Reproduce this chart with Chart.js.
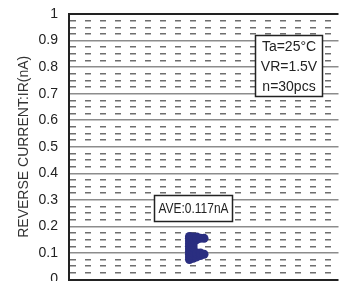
<!DOCTYPE html>
<html><head><meta charset="utf-8">
<script src="https://cdn.jsdelivr.net/npm/chart.js@4/dist/chart.umd.min.js"></script>
<style>
html,body{margin:0;padding:0;background:#fff;overflow:hidden;width:343px;height:281px}
#wrap{width:343px;height:284px;position:relative}
</style>
</head><body><div id="wrap"><canvas id="c"></canvas></div>
<script>
// ---- data ----
const yTickValues = [0, 0.1, 0.2, 0.3, 0.4, 0.5, 0.6, 0.7, 0.8, 0.9, 1];
const yTickLabels = ['0', '0.1', '0.2', '0.3', '0.4', '0.5', '0.6', '0.7', '0.8', '0.9', '1'];
// dot-plot columns (equal readings are stacked side by side)
const column0 = [0.075, 0.085, 0.095, 0.105, 0.115, 0.125, 0.135, 0.145, 0.155, 0.162];
const column1 = [0.08, 0.09, 0.10, 0.11, 0.12, 0.13, 0.14, 0.15, 0.16];
const column2 = [0.085, 0.095, 0.10, 0.15, 0.155, 0.16];
const column3 = [0.09, 0.10, 0.155];
const column4 = [0.095, 0.155];
const axisTitle = 'REVERSE CURRENT:IR(nA)';
const aveLabel = 'AVE:0.117nA';
const conditionLines = ['Ta=25\u00B0C', 'VR=1.5V', 'n=30pcs'];

// ---- layout constants ----
const columnBaseX = 44.7, columnStepX = 1.35;
const columns = [column0, column1, column2, column3, column4];
const points = [];
columns.forEach((col, c) => col.forEach(v => points.push({x: columnBaseX + c * columnStepX, y: v})));

const boxes = [
  {x0: 31.7, x1: 60.3, y0: 0.222, y1: 0.317, lines: [aveLabel]},
  {x0: 69.0, x1: 93.8, y0: 0.691, y1: 0.921, lines: conditionLines}
];

const isMajor = v => Math.abs(v * 10 - Math.round(v * 10)) < 1e-6;

const annot = {
  id: 'annot',
  afterDatasetsDraw(chart) {
    const {ctx, scales: {x, y}} = chart;
    ctx.save();
    boxes.forEach(b => {
      const l = Math.round(x.getPixelForValue(b.x0)) + 0.5;
      const r = Math.round(x.getPixelForValue(b.x1)) + 0.5;
      const t = Math.round(y.getPixelForValue(b.y1)) + 0.5;
      const bt = Math.round(y.getPixelForValue(b.y0)) + 0.5;
      ctx.fillStyle = '#fff';
      ctx.fillRect(l, t, r - l, bt - t);
      ctx.strokeStyle = '#222';
      ctx.lineWidth = 1.5;
      ctx.strokeRect(l, t, r - l, bt - t);
      ctx.fillStyle = '#222';
      ctx.font = '14px "Liberation Sans", Arial, sans-serif';
      ctx.textAlign = 'center';
      ctx.textBaseline = 'middle';
      const n = b.lines.length, lh = (bt - t) / n;
      b.lines.forEach((s, i) => ctx.fillText(s, (l + r) / 2, t + lh * (i + 0.5) + 1, r - l - 8));
    });
    ctx.restore();
  }
};

new Chart(document.getElementById('c'), {
  type: 'scatter',
  data: {datasets: [{
    data: points,
    backgroundColor: '#2a2e80',
    borderWidth: 0,
    pointRadius: 4.5,
    pointHoverRadius: 4.5
  }]},
  options: {
    responsive: true,
    maintainAspectRatio: false,
    animation: false,
    events: [],
    layout: {padding: {top: 14, bottom: 0, left: 0, right: 0}},
    plugins: {legend: {display: false}, tooltip: {enabled: false}},
    scales: {
      x: {type: 'linear', min: 0, max: 100, display: false},
      y: {
        position: 'left', min: 0, max: 1,
        afterBuildTicks: s => { s.ticks = yTickValues.map(v => ({value: v})); },
        afterFit: s => { s.width = 69; s.paddingTop = 0; s.paddingBottom = 0; },
        ticks: {
          padding: 11,
          color: '#222',
          font: {family: '"Liberation Sans", Arial, sans-serif', size: 14},
          callback: (v) => { const i = yTickValues.findIndex(t => Math.abs(t - v) < 1e-6); return i >= 0 ? yTickLabels[i] : ''; }
        },
        grid: {
          drawTicks: false,
          color: c => (c.tick && (c.tick.value === 0 || c.tick.value === 1)) ? '#222' : '#8c8c8c',
          lineWidth: c => (c.tick && (c.tick.value === 0 || c.tick.value === 1)) ? 2 : 1.5
        },
        border: {display: true, color: '#222', width: 2},
        title: {
          display: true, text: axisTitle, color: '#333',
          font: {family: '"Liberation Sans", Arial, sans-serif', size: 14},
          padding: {top: 16, bottom: 0}
        }
      },
      y2: {
        position: 'right', min: 0, max: 1,
        ticks: {display: false, stepSize: 0.025},
        afterFit: s => { s.width = 0; s.paddingTop = 0; s.paddingBottom = 0; },
        grid: {
          drawTicks: false,
          color: c => (c.tick && isMajor(c.tick.value)) ? 'rgba(0,0,0,0)' : '#6e6e6e',
          lineWidth: 1.5
        },
        border: {display: false, dash: [6, 9], dashOffset: -1}
      }
    }
  },
  plugins: [annot]
});
</script>
</body></html>
